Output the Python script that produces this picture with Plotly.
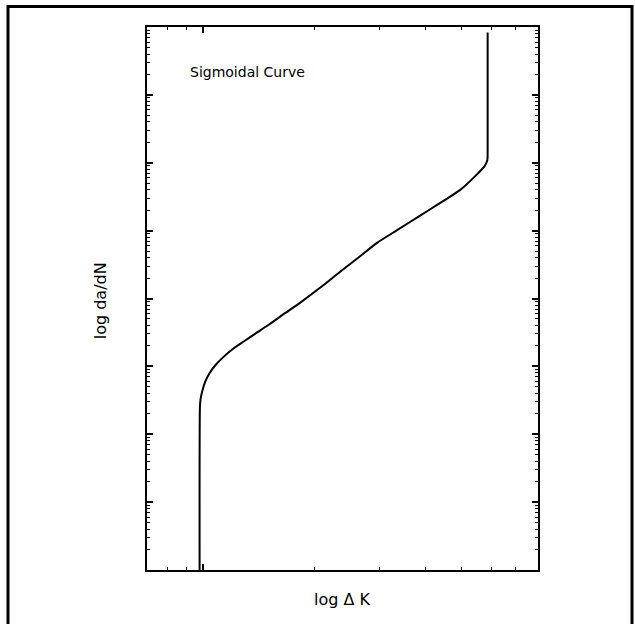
import math
import plotly.graph_objects as go

# Fatigue crack growth: stress-intensity range vs. crack growth rate
delta_k = [9.78, 9.80, 9.84, 9.95, 10.12, 10.40, 10.80, 11.35, 12.05, 12.90,
           13.90, 15.10, 16.60, 18.30, 20.60, 23.40, 26.50, 29.50, 33.50,
           38.00, 43.50, 49.50, 54.50, 57.60, 58.60, 58.70, 58.70]
log_dadn = [-10.00, -7.60, -7.48, -7.36, -7.23, -7.10, -6.98, -6.86, -6.74, -6.63,
            -6.51, -6.38, -6.22, -6.06, -5.85, -5.61, -5.38, -5.18, -4.99,
            -4.80, -4.60, -4.40, -4.19, -4.05, -3.96, -3.85, -2.08]
dadn = [10 ** v for v in log_dadn]

x_range = [7.05, 80.3]
y_decades = [-10, -2]

title_text = "Sigmoidal Curve"
x_label = "log Δ K"
y_label = "log da/dN"

FONT = "DejaVu Sans"

fig = go.Figure()
fig.add_trace(go.Scatter(
    x=delta_k, y=dadn, mode="lines",
    line=dict(color="black", width=2, shape="spline", smoothing=0.6),
    showlegend=False, hoverinfo="skip",
))

axis_common = dict(
    type="log", showgrid=False, zeroline=False, showticklabels=False,
    showline=True, linecolor="black", linewidth=2, mirror="ticks",
    ticks="inside", ticklen=6, tickwidth=1.5, tickcolor="black", dtick=1,
    minor=dict(ticks="inside", ticklen=3, tickwidth=1, tickcolor="black",
               dtick="D1", showgrid=False),
)
fig.update_xaxes(range=[math.log10(x_range[0]), math.log10(x_range[1])], **axis_common)
fig.update_yaxes(range=y_decades, **axis_common)

fig.update_layout(
    width=635, height=624,
    margin=dict(l=147, r=97, t=27, b=54),
    paper_bgcolor="white", plot_bgcolor="white",
    font=dict(family=FONT, color="black"),
    annotations=[
        dict(text=title_text, xref="paper", yref="paper", x=0.105, y=0.918,
             xanchor="left", yanchor="middle", showarrow=False,
             font=dict(size=14, family=FONT)),
        dict(text=x_label, xref="paper", yref="paper", x=0.5, y=-0.055,
             xanchor="center", yanchor="middle", showarrow=False,
             font=dict(size=16, family=FONT)),
        dict(text=y_label, xref="paper", yref="paper", x=-0.12, y=0.495,
             xanchor="center", yanchor="middle", showarrow=False, textangle=-90,
             font=dict(size=16, family=FONT)),
    ],
    shapes=[
        dict(type="path", xref="paper", yref="paper",
             path="M -0.3555,-0.2 L -0.3555,1.0378 L 1.2404,1.0378 L 1.2404,-0.2",
             line=dict(color="black", width=3)),
    ],
)

fig.write_html("out.html")
